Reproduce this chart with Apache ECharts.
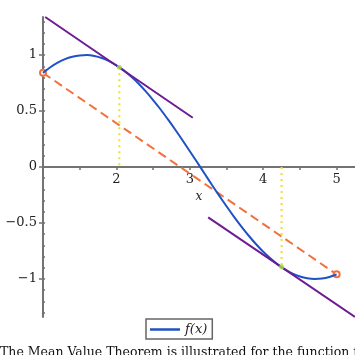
<!DOCTYPE html>
<html><head><meta charset="utf-8">
<script src="https://cdn.jsdelivr.net/npm/echarts@6/dist/echarts.min.js"></script>
<style>html,body{margin:0;padding:0;background:#fff}#c{width:355px;height:355px}</style>
</head><body><div id="c"></div>
<script>
// f(x) samples
const curveX = [1.0,1.1,1.2,1.3,1.4,1.5,1.6,1.7,1.8,1.9,2.0,2.1,2.2,2.3,2.4,2.5,2.6,2.7,2.8,2.9,3.0,3.1,3.2,3.3,3.4,3.5,3.6,3.7,3.8,3.9,4.0,4.1,4.2,4.3,4.4,4.5,4.6,4.7,4.8,4.9,5.0];
const curveY = [0.841,0.891,0.932,0.964,0.985,0.997,1.000,0.992,0.974,0.946,0.909,0.863,0.808,0.746,0.675,0.598,0.516,0.427,0.335,0.239,0.141,0.042,-0.058,-0.158,-0.256,-0.351,-0.443,-0.530,-0.612,-0.688,-0.757,-0.818,-0.872,-0.916,-0.952,-0.978,-0.994,-1.000,-0.996,-0.982,-0.959];
// secant line endpoints
const secantX = [1.0, 5.0];
const secantY = [0.841, -0.959];
// tangent lines
const tangent1X = [1.03, 3.04];
const tangent1Y = [1.34, 0.44];
const tangent2X = [3.25, 5.25];
const tangent2Y = [-0.45, -1.34];
// mean value points
const mvX = [2.04, 4.25];
const mvY = [0.89, -0.89];
// ticks
const xTickLabels = [2, 3, 4, 5];
const xTicks = [1.5, 2, 2.5, 3, 3.5, 4, 4.5, 5];
const yTickLabels = [-1, -0.5, 0, 0.5, 1];
const yMinorTicks = [-1.3,-1.2,-1.1,-1.0,-0.9,-0.8,-0.7,-0.6,-0.5,-0.4,-0.3,-0.2,-0.1,0,0.1,0.2,0.3,0.4,0.5,0.6,0.7,0.8,0.9,1.0,1.1,1.2,1.3];

const zip = (xs, ys) => xs.map((x, i) => [x, ys[i]]);
const AX = '#737373';
const SERIF = '"DejaVu Serif", "Liberation Serif", serif';
const Y_MIN = -1.34, Y_MAX = 1.34, GRID_TOP = 17, GRID_H = 300;
// distance from the grid bottom up to y = 0
const zeroOffset = -GRID_H * (0 - Y_MIN) / (Y_MAX - Y_MIN);

const chart = echarts.init(document.getElementById('c'));
chart.setOption({
  animation: false,
  grid: { left: 43, right: 0, top: GRID_TOP, height: GRID_H, containLabel: false, outerBoundsMode: 'none' },
  xAxis: [{
    type: 'value', min: 1, max: 5.25, position: 'bottom', offset: zeroOffset,
    name: 'x', nameLocation: 'middle', nameGap: 17,
    nameTextStyle: { fontFamily: SERIF, fontStyle: 'italic', fontSize: 12, color: '#222' },
    axisLine: { show: true, onZero: false, lineStyle: { color: AX, width: 2 } },
    axisTick: { show: true, customValues: xTicks, length: 3, lineStyle: { color: AX, width: 1.5 } },
    axisLabel: { customValues: xTickLabels, margin: 6, fontFamily: SERIF, fontSize: 13, color: '#222' },
    splitLine: { show: false }
  }],
  yAxis: [{
    type: 'value', min: Y_MIN, max: Y_MAX, position: 'left',
    axisLine: { show: true, onZero: false, lineStyle: { color: AX, width: 2 } },
    axisTick: { show: true, customValues: yTickLabels, length: 4, lineStyle: { color: AX, width: 1.5 } },
    axisLabel: { customValues: yTickLabels, margin: 6, fontFamily: SERIF, fontSize: 13, color: '#222',
      formatter: v => (v < 0 ? '\u2212' + Math.abs(v) : String(v)) },
    splitLine: { show: false }
  }, {
    type: 'value', min: Y_MIN, max: Y_MAX, position: 'left', offset: 0,
    axisLine: { show: false, onZero: false },
    axisTick: { show: true, inside: true, customValues: yMinorTicks, length: 2, lineStyle: { color: AX, width: 1.5 } },
    axisLabel: { show: false },
    splitLine: { show: false }
  }],
  legend: {
    data: [{ name: 'f(x)', icon: 'rect' }], left: 146, top: 319, orient: 'horizontal',
    padding: [4, 5, 3, 4], borderColor: '#666', borderWidth: 1.5,
    itemWidth: 30, itemHeight: 2.5, itemGap: 4,
    textStyle: { fontFamily: SERIF, fontStyle: 'italic', fontSize: 13, color: '#222' }
  },
  graphic: [{
    type: 'text', left: 0, top: 346,
    style: { text: 'The Mean Value Theorem is illustrated for the function f(x) = sin(x) on the interval [1, 5].',
      font: '12.5px "DejaVu Serif", "Liberation Serif", serif', fill: '#111' }
  }],
  series: [
    { name: 'f(x)', type: 'line', data: zip(curveX, curveY), smooth: 0.3, symbol: 'none',
      lineStyle: { color: '#1f52c4', width: 2 }, itemStyle: { color: '#1f52c4' }, z: 3 },
    { name: 'secant', type: 'line', data: zip(secantX, secantY), symbol: 'emptyCircle', symbolSize: 6, showSymbol: true,
      lineStyle: { color: '#f2703e', width: 2, type: [9, 5] }, itemStyle: { color: '#f2703e', borderWidth: 1.2 }, z: 2 },
    { name: 't1', type: 'line', data: zip(tangent1X, tangent1Y), symbol: 'none',
      lineStyle: { color: '#6e1b93', width: 2 }, z: 4 },
    { name: 't2', type: 'line', data: zip(tangent2X, tangent2Y), symbol: 'none',
      lineStyle: { color: '#6e1b93', width: 2 }, z: 4 },
    { name: 'v1', type: 'line', data: [[mvX[0], mvY[0]], [mvX[0], 0]], symbol: 'none',
      lineStyle: { color: '#f0e020', width: 2, type: [2, 4] }, z: 2 },
    { name: 'v2', type: 'line', data: [[mvX[1], 0], [mvX[1], mvY[1]]], symbol: 'none',
      lineStyle: { color: '#f0e020', width: 2, type: [2, 4] }, z: 2 },
    { name: 'mv', type: 'scatter', data: zip(mvX, mvY), symbol: 'circle', symbolSize: 5,
      itemStyle: { color: '#a6e04a' }, z: 5 }
  ]
});
</script></body></html>
